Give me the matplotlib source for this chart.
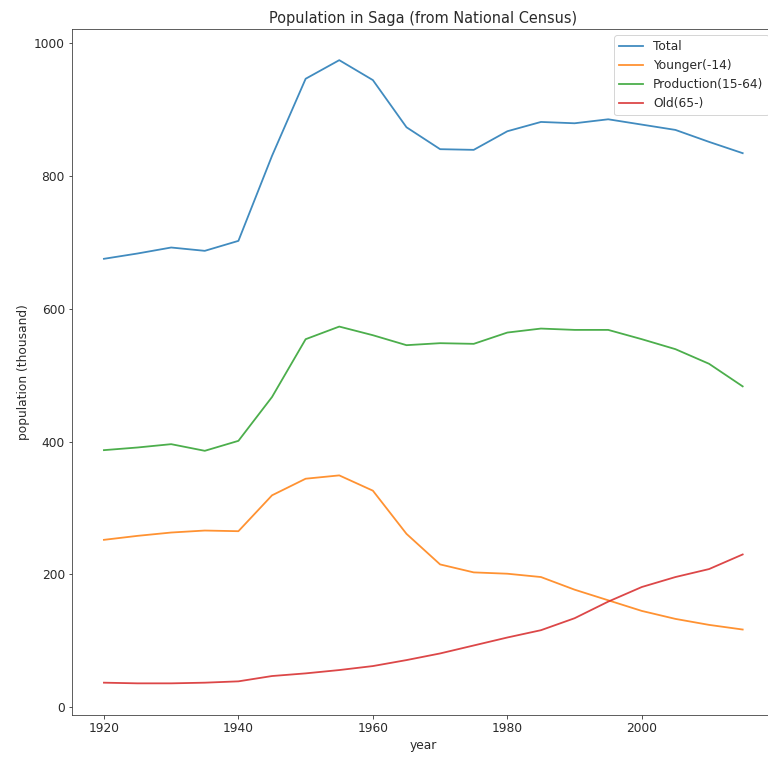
import matplotlib
matplotlib.use("Agg")
import matplotlib.pyplot as plt

# Saga prefecture population by age group, national census (thousand people)
years = [1920, 1925, 1930, 1935, 1940, 1945, 1950, 1955, 1960, 1965,
         1970, 1975, 1980, 1985, 1990, 1995, 2000, 2005, 2010, 2015]
total = [675, 683, 692, 687, 702, 830, 946, 974, 944, 873,
         840, 839, 867, 881, 879, 885, 877, 869, 851, 834]
younger = [252, 258, 263, 266, 265, 319, 344, 349, 326, 261,
           215, 203, 201, 196, 177, 161, 145, 133, 124, 117]
production = [387, 391, 396, 386, 401, 467, 554, 573, 560, 545,
              548, 547, 564, 570, 568, 568, 554, 539, 517, 483]
old = [37, 36, 36, 37, 39, 47, 51, 56, 62, 71,
       81, 93, 105, 116, 134, 159, 181, 196, 208, 230]

plt.rcParams.update({
    "font.size": 12.2,
    "axes.titlesize": 14.5,
    "text.color": "#2a2a2a",
    "axes.labelcolor": "#2a2a2a",
    "xtick.color": "#2a2a2a",
    "ytick.color": "#2a2a2a",
    "axes.edgecolor": "#3a3a3a",
    "lines.linewidth": 1.8,
})

fig = plt.figure(figsize=(768 / 72, 760 / 72), dpi=72)
ax = fig.add_axes([72 / 768, 45.5 / 760, 702.6 / 768, 685.5 / 760])

ax.plot(years, total, label="Total", alpha=0.85)
ax.plot(years, younger, label="Younger(-14)", alpha=0.85)
ax.plot(years, production, label="Production(15-64)", alpha=0.85)
ax.plot(years, old, label="Old(65-)", alpha=0.85)

ax.set_xticks([1920, 1940, 1960, 1980, 2000])
ax.set_yticks([0, 200, 400, 600, 800, 1000])
ax.set_title("Population in Saga (from National Census)")
ax.set_xlabel("year")
ax.set_ylabel("population (thousand)")
ax.legend(loc="upper right")

fig.savefig("out.png", dpi=72)
